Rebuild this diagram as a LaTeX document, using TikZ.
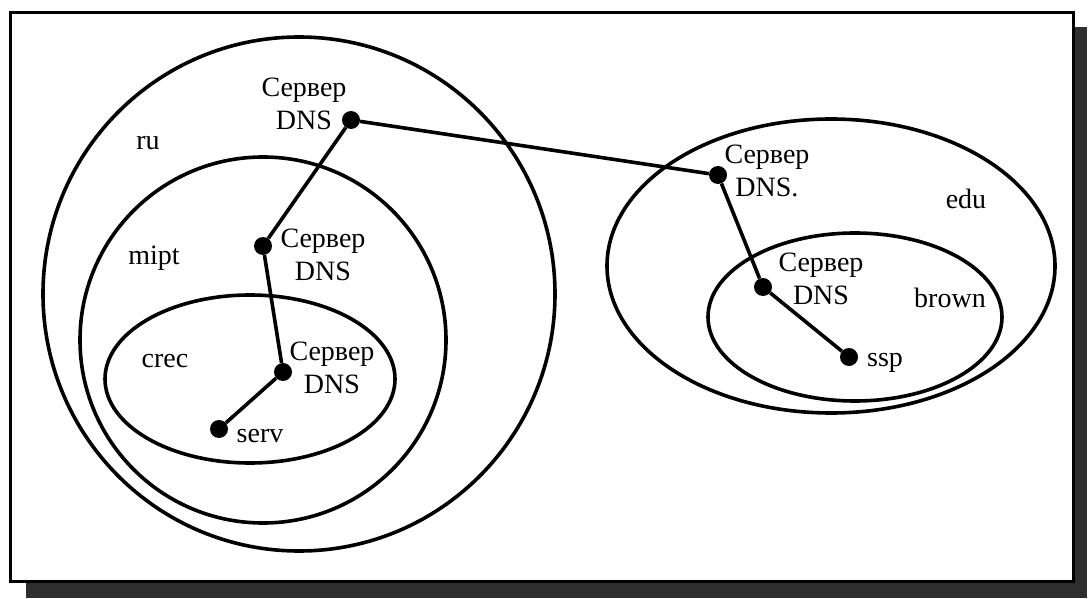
\documentclass[tikz,border=0pt]{standalone}
\usepackage{fontspec}
\setmainfont{Liberation Serif}
\begin{document}
\begin{tikzpicture}[x=1pt,y=-1pt,
  zone/.style={draw, line width=3.6pt},
  link/.style={line width=3.6pt},
  dot/.style={circle, fill, inner sep=0pt, minimum size=18pt},
  lbl/.style={font=\fontsize{28}{33}\selectfont, inner sep=0pt},
  srv/.style={lbl, align=center},
  frame/.style={draw, fill=white, line width=3pt},
  shadow/.style={fill=black!82}]
\useasboundingbox (0,0) rectangle (1088,599);
% shadow and frame
\fill[shadow] (26,27) rectangle (1087,598);
\draw[frame] (10,13) rectangle (1073,581);
% zones
\draw[zone] (299,294) ellipse [x radius=256pt, y radius=257pt];
\draw[zone] (263,340) ellipse [x radius=183pt, y radius=183pt];
\draw[zone] (250,379) ellipse [x radius=145pt, y radius=84pt];
\draw[zone] (831,266) ellipse [x radius=224pt, y radius=147pt];
\draw[zone] (855,317) ellipse [x radius=147pt, y radius=84pt];
% dots
\node[dot] (d1) at (351,120) {};
\node[dot] (d2) at (263,246) {};
\node[dot] (d3) at (283,372) {};
\node[dot] (sv) at (219,429) {};
\node[dot] (e1) at (718,175) {};
\node[dot] (e2) at (763,287) {};
\node[dot] (sp) at (849,357) {};
% links
\draw[link] (d1) -- (e1);
\draw[link] (d1) -- (d2);
\draw[link] (d2) -- (d3);
\draw[link] (d3) -- (sv);
\draw[link] (e1) -- (e2);
\draw[link] (e2) -- (sp);
% server labels
\node[srv] (t1) at (304,104) {Сервер\\DNS};
\node[srv] (t2) at (323,255) {Сервер\\DNS};
\node[srv] (t3) at (332,368) {Сервер\\DNS};
\node[srv] (t4) at (767,171) {Сервер\\DNS.};
\node[srv] (t5) at (821,279) {Сервер\\DNS};
% host labels
\node[lbl, anchor=base] (lsv) at (260,442) {serv};
\node[lbl, anchor=base] (lsp) at (885,366) {ssp};
% zone labels
\node[lbl, anchor=base] (lru) at (148,150) {ru};
\node[lbl, anchor=base] (lmi) at (154,265) {mipt};
\node[lbl, anchor=base] (lcr) at (165,367) {crec};
\node[lbl, anchor=base] (led) at (966,208) {edu};
\node[lbl, anchor=base] (lbr) at (950,307) {brown};
\end{tikzpicture}
\end{document}
